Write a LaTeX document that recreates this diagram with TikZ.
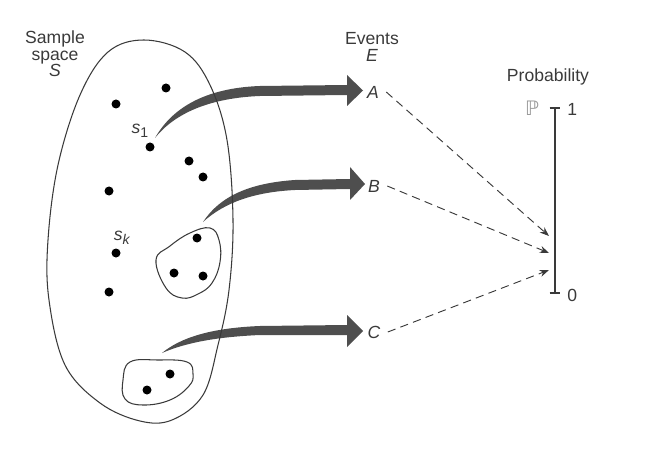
\documentclass[tikz,border=0pt]{standalone}
\usepackage{fontspec}
\setmainfont{Liberation Sans}
\newfontfamily\dvfont{DejaVu Sans}
\usetikzlibrary{arrows.meta}
\definecolor{ink}{HTML}{3A3A3A}
\definecolor{fatgray}{HTML}{4E4E4E}
\definecolor{lightink}{HTML}{9A9A9A}
\newcommand{\lowidx}[1]{\raisebox{-0.45ex}{\fontsize{12}{13}\selectfont #1}}
\tikzset{
  lbl/.style={text=ink, inner sep=1pt, font=\fontsize{15}{17}\selectfont, align=center},
  dot/.style={circle, fill=black, inner sep=0, minimum size=0.27cm},
  outline/.style={draw=ink, line width=0.9pt},
  fatarrow/.style={fill=fatgray},
  dasharrow/.style={draw=ink, line width=0.8pt, dash pattern=on 7pt off 4.5pt, -{Stealth[length=8pt, width=6pt]}}
}
\begin{document}
\begin{tikzpicture}[x=0.03cm, y=-0.03cm]
\useasboundingbox (0,0) rectangle (651,455);
% fat arrows to the events
\fill[fatarrow] (155,138) .. controls (172,108) and (205,88) .. (260,86) -- (347,85)
  -- (347,75) -- (363,90.5) -- (347,106) -- (347,95) -- (260,96)
  .. controls (210,98) and (175,113) .. cycle;
\fill[fatarrow] (203,222) .. controls (220,196) and (250,183) .. (295,180) -- (350,179)
  -- (350,167) -- (365,184) -- (350,200) -- (350,189) -- (295,190)
  .. controls (255,192) and (225,202) .. cycle;
\fill[fatarrow] (162,353) .. controls (180,338) and (210,328) .. (260,326) -- (347,325)
  -- (347,315) -- (363,331) -- (347,347) -- (347,335) -- (260,335)
  .. controls (215,337) and (185,343) .. cycle;
% sample space and the two subsets
\draw[outline] plot[smooth cycle, tension=0.6] coordinates {(144,40) (185,52) (210,85)
  (227,140) (233,220) (229,290) (218,345) (203,395) (172,420) (140,421) (100,403)
  (65,365) (49,300) (48,240) (58,165) (80,95) (108,52)};
\draw[outline] plot[smooth cycle, tension=0.7] coordinates {(156,260) (170,246) (190,233)
  (210,228) (219,240) (220,262) (212,283) (198,294) (182,298) (166,288)};
\draw[outline] plot[smooth cycle, tension=0.7] coordinates {(130,362) (158,360) (187,362)
  (193,374) (189,386) (170,400) (143,405) (125,399) (123,380)};
% outcomes
\node[dot] (d1) at (166,88) {};
\node[dot] (d2) at (116,104) {};
\node[dot] (s1) at (150,147) {};
\node[dot] (d3) at (189,161) {};
\node[dot] (d4) at (203,177) {};
\node[dot] (d5) at (109,191) {};
\node[dot] (sk) at (116,253) {};
\node[dot] (d6) at (109,292) {};
\node[dot] (b1) at (197,238) {};
\node[dot] (b2) at (174,273) {};
\node[dot] (b3) at (203,276) {};
\node[dot] (c1) at (170,374) {};
\node[dot] (c2) at (147,390) {};
\node[lbl] (s1lbl) at (140,131) {\textit{s}\lowidx{1}};
\node[lbl] (sklbl) at (122,238) {\textit{s}\lowidx{\textit{k}}};
% titles
\node[lbl] (space) at (55,54) {Sample\\[-3pt]space\\[-3pt]\textit{S}};
\node[lbl] (events) at (372,47) {Events\\[-3pt]\textit{E}};
\node[lbl] (prob) at (548,77) {Probability};
% events
\node[lbl] (A) at (373,92) {\textit{A}};
\node[lbl] (B) at (374,186) {\textit{B}};
\node[lbl] (C) at (374,332) {\textit{C}};
% probability scale
\coordinate (top) at (555,108);
\coordinate (bot) at (555,293);
\draw[draw=ink, line width=1.1pt] (top) -- (bot);
\draw[draw=ink, line width=1.1pt] ([xshift=-4.5]top) -- ([xshift=4.5]top);
\draw[draw=ink, line width=1.1pt] ([xshift=-4.5]bot) -- ([xshift=4.5]bot);
\node[lbl, anchor=west] (one) at (566,109) {1};
\node[lbl, anchor=west] (zero) at (566,295) {0};
\node[lbl, text=lightink, font=\dvfont\fontsize{17}{19}\selectfont] (bbP) at (532,108) {ℙ};
\coordinate (pA) at (549,236);
\coordinate (pB) at (549,253);
\coordinate (pC) at (549,270);
\draw[dasharrow] (A.east) ++(6,0) -- (pA);
\draw[dasharrow] (B.east) ++(6,0) -- (pB);
\draw[dasharrow] (C.east) ++(6,0) -- (pC);
\end{tikzpicture}
\end{document}
